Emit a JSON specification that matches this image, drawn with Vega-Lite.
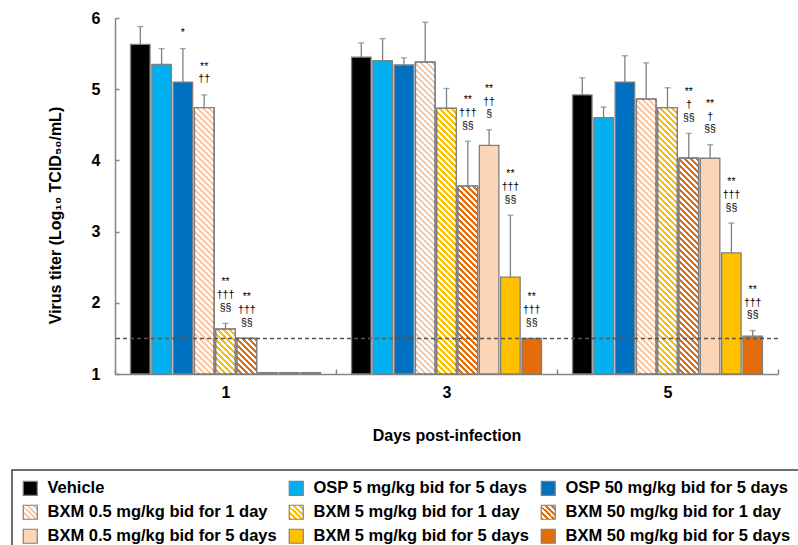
{
  "$schema": "https://vega.github.io/schema/vega-lite/v6.json",
  "width": 663,
  "height": 356,
  "autosize": "none",
  "padding": {"left": 115, "top": 18, "right": 20, "bottom": 171},
  "background": "white",
  "config": {
    "font": "Liberation Sans",
    "view": {"stroke": null},
    "axis": {"grid": false},
    "axisX": {"labelAngle": 0, "labelFontSize": 16, "labelFontWeight": "bold", "labelColor": "#000", "titleFontSize": 16, "titleFontWeight": "bold", "titleColor": "#000", "domainColor": "#868686", "domainWidth": 1.5, "tickColor": "#868686", "tickWidth": 1.5, "tickSize": -5, "tickBand": "extent", "labelPadding": 15, "titlePadding": 27},
    "axisY": {"labelFontSize": 16, "labelFontWeight": "bold", "labelColor": "#000", "titleFontSize": 16, "titleFontWeight": "bold", "titleColor": "#000", "domainColor": "#868686", "domainWidth": 1.5, "tickColor": "#868686", "tickWidth": 1.5, "tickSize": -4, "tickCount": 5, "labelPadding": 19, "titleX": -60, "titleY": 197, "titleAngle": -90, "titleAlign": "center", "titleBaseline": "middle"},
    "legend": {"strokeWidth": 1.5}
  },
  "params": [
    {"name": "hatch", "value": [
      {"offset":0,"color":"#fff"},
      {"offset":0.0083,"color":"#fff"},{"offset":0.0083,"color":"rgba(255,255,255,0)"},{"offset":0.0167,"color":"rgba(255,255,255,0)"},{"offset":0.0167,"color":"#fff"},{"offset":0.025,"color":"#fff"},{"offset":0.025,"color":"rgba(255,255,255,0)"},{"offset":0.0333,"color":"rgba(255,255,255,0)"},{"offset":0.0333,"color":"#fff"},{"offset":0.0417,"color":"#fff"},{"offset":0.0417,"color":"rgba(255,255,255,0)"},{"offset":0.05,"color":"rgba(255,255,255,0)"},{"offset":0.05,"color":"#fff"},{"offset":0.0583,"color":"#fff"},{"offset":0.0583,"color":"rgba(255,255,255,0)"},{"offset":0.0667,"color":"rgba(255,255,255,0)"},{"offset":0.0667,"color":"#fff"},{"offset":0.075,"color":"#fff"},{"offset":0.075,"color":"rgba(255,255,255,0)"},{"offset":0.0833,"color":"rgba(255,255,255,0)"},{"offset":0.0833,"color":"#fff"},{"offset":0.0917,"color":"#fff"},{"offset":0.0917,"color":"rgba(255,255,255,0)"},{"offset":0.1,"color":"rgba(255,255,255,0)"},{"offset":0.1,"color":"#fff"},
      {"offset":0.1083,"color":"#fff"},{"offset":0.1083,"color":"rgba(255,255,255,0)"},{"offset":0.1167,"color":"rgba(255,255,255,0)"},{"offset":0.1167,"color":"#fff"},{"offset":0.125,"color":"#fff"},{"offset":0.125,"color":"rgba(255,255,255,0)"},{"offset":0.1333,"color":"rgba(255,255,255,0)"},{"offset":0.1333,"color":"#fff"},{"offset":0.1417,"color":"#fff"},{"offset":0.1417,"color":"rgba(255,255,255,0)"},{"offset":0.15,"color":"rgba(255,255,255,0)"},{"offset":0.15,"color":"#fff"},{"offset":0.1583,"color":"#fff"},{"offset":0.1583,"color":"rgba(255,255,255,0)"},{"offset":0.1667,"color":"rgba(255,255,255,0)"},{"offset":0.1667,"color":"#fff"},{"offset":0.175,"color":"#fff"},{"offset":0.175,"color":"rgba(255,255,255,0)"},{"offset":0.1833,"color":"rgba(255,255,255,0)"},{"offset":0.1833,"color":"#fff"},{"offset":0.1917,"color":"#fff"},{"offset":0.1917,"color":"rgba(255,255,255,0)"},{"offset":0.2,"color":"rgba(255,255,255,0)"},{"offset":0.2,"color":"#fff"},
      {"offset":0.2083,"color":"#fff"},{"offset":0.2083,"color":"rgba(255,255,255,0)"},{"offset":0.2167,"color":"rgba(255,255,255,0)"},{"offset":0.2167,"color":"#fff"},{"offset":0.225,"color":"#fff"},{"offset":0.225,"color":"rgba(255,255,255,0)"},{"offset":0.2333,"color":"rgba(255,255,255,0)"},{"offset":0.2333,"color":"#fff"},{"offset":0.2417,"color":"#fff"},{"offset":0.2417,"color":"rgba(255,255,255,0)"},{"offset":0.25,"color":"rgba(255,255,255,0)"},{"offset":0.25,"color":"#fff"},{"offset":0.2583,"color":"#fff"},{"offset":0.2583,"color":"rgba(255,255,255,0)"},{"offset":0.2667,"color":"rgba(255,255,255,0)"},{"offset":0.2667,"color":"#fff"},{"offset":0.275,"color":"#fff"},{"offset":0.275,"color":"rgba(255,255,255,0)"},{"offset":0.2833,"color":"rgba(255,255,255,0)"},{"offset":0.2833,"color":"#fff"},{"offset":0.2917,"color":"#fff"},{"offset":0.2917,"color":"rgba(255,255,255,0)"},{"offset":0.3,"color":"rgba(255,255,255,0)"},{"offset":0.3,"color":"#fff"},
      {"offset":0.3083,"color":"#fff"},{"offset":0.3083,"color":"rgba(255,255,255,0)"},{"offset":0.3167,"color":"rgba(255,255,255,0)"},{"offset":0.3167,"color":"#fff"},{"offset":0.325,"color":"#fff"},{"offset":0.325,"color":"rgba(255,255,255,0)"},{"offset":0.3333,"color":"rgba(255,255,255,0)"},{"offset":0.3333,"color":"#fff"},{"offset":0.3417,"color":"#fff"},{"offset":0.3417,"color":"rgba(255,255,255,0)"},{"offset":0.35,"color":"rgba(255,255,255,0)"},{"offset":0.35,"color":"#fff"},{"offset":0.3583,"color":"#fff"},{"offset":0.3583,"color":"rgba(255,255,255,0)"},{"offset":0.3667,"color":"rgba(255,255,255,0)"},{"offset":0.3667,"color":"#fff"},{"offset":0.375,"color":"#fff"},{"offset":0.375,"color":"rgba(255,255,255,0)"},{"offset":0.3833,"color":"rgba(255,255,255,0)"},{"offset":0.3833,"color":"#fff"},{"offset":0.3917,"color":"#fff"},{"offset":0.3917,"color":"rgba(255,255,255,0)"},{"offset":0.4,"color":"rgba(255,255,255,0)"},{"offset":0.4,"color":"#fff"},
      {"offset":0.4083,"color":"#fff"},{"offset":0.4083,"color":"rgba(255,255,255,0)"},{"offset":0.4167,"color":"rgba(255,255,255,0)"},{"offset":0.4167,"color":"#fff"},{"offset":0.425,"color":"#fff"},{"offset":0.425,"color":"rgba(255,255,255,0)"},{"offset":0.4333,"color":"rgba(255,255,255,0)"},{"offset":0.4333,"color":"#fff"},{"offset":0.4417,"color":"#fff"},{"offset":0.4417,"color":"rgba(255,255,255,0)"},{"offset":0.45,"color":"rgba(255,255,255,0)"},{"offset":0.45,"color":"#fff"},{"offset":0.4583,"color":"#fff"},{"offset":0.4583,"color":"rgba(255,255,255,0)"},{"offset":0.4667,"color":"rgba(255,255,255,0)"},{"offset":0.4667,"color":"#fff"},{"offset":0.475,"color":"#fff"},{"offset":0.475,"color":"rgba(255,255,255,0)"},{"offset":0.4833,"color":"rgba(255,255,255,0)"},{"offset":0.4833,"color":"#fff"},{"offset":0.4917,"color":"#fff"},{"offset":0.4917,"color":"rgba(255,255,255,0)"},{"offset":0.5,"color":"rgba(255,255,255,0)"},{"offset":0.5,"color":"#fff"},
      {"offset":0.5083,"color":"#fff"},{"offset":0.5083,"color":"rgba(255,255,255,0)"},{"offset":0.5167,"color":"rgba(255,255,255,0)"},{"offset":0.5167,"color":"#fff"},{"offset":0.525,"color":"#fff"},{"offset":0.525,"color":"rgba(255,255,255,0)"},{"offset":0.5333,"color":"rgba(255,255,255,0)"},{"offset":0.5333,"color":"#fff"},{"offset":0.5417,"color":"#fff"},{"offset":0.5417,"color":"rgba(255,255,255,0)"},{"offset":0.55,"color":"rgba(255,255,255,0)"},{"offset":0.55,"color":"#fff"},{"offset":0.5583,"color":"#fff"},{"offset":0.5583,"color":"rgba(255,255,255,0)"},{"offset":0.5667,"color":"rgba(255,255,255,0)"},{"offset":0.5667,"color":"#fff"},{"offset":0.575,"color":"#fff"},{"offset":0.575,"color":"rgba(255,255,255,0)"},{"offset":0.5833,"color":"rgba(255,255,255,0)"},{"offset":0.5833,"color":"#fff"},{"offset":0.5917,"color":"#fff"},{"offset":0.5917,"color":"rgba(255,255,255,0)"},{"offset":0.6,"color":"rgba(255,255,255,0)"},{"offset":0.6,"color":"#fff"},
      {"offset":0.6083,"color":"#fff"},{"offset":0.6083,"color":"rgba(255,255,255,0)"},{"offset":0.6167,"color":"rgba(255,255,255,0)"},{"offset":0.6167,"color":"#fff"},{"offset":0.625,"color":"#fff"},{"offset":0.625,"color":"rgba(255,255,255,0)"},{"offset":0.6333,"color":"rgba(255,255,255,0)"},{"offset":0.6333,"color":"#fff"},{"offset":0.6417,"color":"#fff"},{"offset":0.6417,"color":"rgba(255,255,255,0)"},{"offset":0.65,"color":"rgba(255,255,255,0)"},{"offset":0.65,"color":"#fff"},{"offset":0.6583,"color":"#fff"},{"offset":0.6583,"color":"rgba(255,255,255,0)"},{"offset":0.6667,"color":"rgba(255,255,255,0)"},{"offset":0.6667,"color":"#fff"},{"offset":0.675,"color":"#fff"},{"offset":0.675,"color":"rgba(255,255,255,0)"},{"offset":0.6833,"color":"rgba(255,255,255,0)"},{"offset":0.6833,"color":"#fff"},{"offset":0.6917,"color":"#fff"},{"offset":0.6917,"color":"rgba(255,255,255,0)"},{"offset":0.7,"color":"rgba(255,255,255,0)"},{"offset":0.7,"color":"#fff"},
      {"offset":0.7083,"color":"#fff"},{"offset":0.7083,"color":"rgba(255,255,255,0)"},{"offset":0.7167,"color":"rgba(255,255,255,0)"},{"offset":0.7167,"color":"#fff"},{"offset":0.725,"color":"#fff"},{"offset":0.725,"color":"rgba(255,255,255,0)"},{"offset":0.7333,"color":"rgba(255,255,255,0)"},{"offset":0.7333,"color":"#fff"},{"offset":0.7417,"color":"#fff"},{"offset":0.7417,"color":"rgba(255,255,255,0)"},{"offset":0.75,"color":"rgba(255,255,255,0)"},{"offset":0.75,"color":"#fff"},{"offset":0.7583,"color":"#fff"},{"offset":0.7583,"color":"rgba(255,255,255,0)"},{"offset":0.7667,"color":"rgba(255,255,255,0)"},{"offset":0.7667,"color":"#fff"},{"offset":0.775,"color":"#fff"},{"offset":0.775,"color":"rgba(255,255,255,0)"},{"offset":0.7833,"color":"rgba(255,255,255,0)"},{"offset":0.7833,"color":"#fff"},{"offset":0.7917,"color":"#fff"},{"offset":0.7917,"color":"rgba(255,255,255,0)"},{"offset":0.8,"color":"rgba(255,255,255,0)"},{"offset":0.8,"color":"#fff"},
      {"offset":0.8083,"color":"#fff"},{"offset":0.8083,"color":"rgba(255,255,255,0)"},{"offset":0.8167,"color":"rgba(255,255,255,0)"},{"offset":0.8167,"color":"#fff"},{"offset":0.825,"color":"#fff"},{"offset":0.825,"color":"rgba(255,255,255,0)"},{"offset":0.8333,"color":"rgba(255,255,255,0)"},{"offset":0.8333,"color":"#fff"},{"offset":0.8417,"color":"#fff"},{"offset":0.8417,"color":"rgba(255,255,255,0)"},{"offset":0.85,"color":"rgba(255,255,255,0)"},{"offset":0.85,"color":"#fff"},{"offset":0.8583,"color":"#fff"},{"offset":0.8583,"color":"rgba(255,255,255,0)"},{"offset":0.8667,"color":"rgba(255,255,255,0)"},{"offset":0.8667,"color":"#fff"},{"offset":0.875,"color":"#fff"},{"offset":0.875,"color":"rgba(255,255,255,0)"},{"offset":0.8833,"color":"rgba(255,255,255,0)"},{"offset":0.8833,"color":"#fff"},{"offset":0.8917,"color":"#fff"},{"offset":0.8917,"color":"rgba(255,255,255,0)"},{"offset":0.9,"color":"rgba(255,255,255,0)"},{"offset":0.9,"color":"#fff"},
      {"offset":0.9083,"color":"#fff"},{"offset":0.9083,"color":"rgba(255,255,255,0)"},{"offset":0.9167,"color":"rgba(255,255,255,0)"},{"offset":0.9167,"color":"#fff"},{"offset":0.925,"color":"#fff"},{"offset":0.925,"color":"rgba(255,255,255,0)"},{"offset":0.9333,"color":"rgba(255,255,255,0)"},{"offset":0.9333,"color":"#fff"},{"offset":0.9417,"color":"#fff"},{"offset":0.9417,"color":"rgba(255,255,255,0)"},{"offset":0.95,"color":"rgba(255,255,255,0)"},{"offset":0.95,"color":"#fff"},{"offset":0.9583,"color":"#fff"},{"offset":0.9583,"color":"rgba(255,255,255,0)"},{"offset":0.9667,"color":"rgba(255,255,255,0)"},{"offset":0.9667,"color":"#fff"},{"offset":0.975,"color":"#fff"},{"offset":0.975,"color":"rgba(255,255,255,0)"},{"offset":0.9833,"color":"rgba(255,255,255,0)"},{"offset":0.9833,"color":"#fff"},{"offset":0.9917,"color":"#fff"},{"offset":0.9917,"color":"rgba(255,255,255,0)"},{"offset":1,"color":"rgba(255,255,255,0)"}
    ]}
  ],
  "data": {"values": [
    {"day":"1","grp":"Vehicle","value":5.63,"hi":5.88},
    {"day":"1","grp":"OSP 5 mg/kg bid for 5 days","value":5.35,"hi":5.57},
    {"day":"1","grp":"OSP 50 mg/kg bid for 5 days","value":5.1,"hi":5.57,"l3":"*"},
    {"day":"1","grp":"BXM 0.5 mg/kg bid for 1 day","value":4.74,"hi":4.92,"l2":"**","l3":"††"},
    {"day":"1","grp":"BXM 5 mg/kg bid for 1 day","value":1.63,"hi":1.71,"l1":"**","l2":"†††","l3":"§§"},
    {"day":"1","grp":"BXM 50 mg/kg bid for 1 day","value":1.5,"hi":1.5,"l1":"**","l2":"†††","l3":"§§"},
    {"day":"1","grp":"BXM 0.5 mg/kg bid for 5 days","value":1.02,"hi":1.02},
    {"day":"1","grp":"BXM 5 mg/kg bid for 5 days","value":1.02,"hi":1.02},
    {"day":"1","grp":"BXM 50 mg/kg bid for 5 days","value":1.02,"hi":1.02},
    {"day":"3","grp":"Vehicle","value":5.45,"hi":5.65},
    {"day":"3","grp":"OSP 5 mg/kg bid for 5 days","value":5.4,"hi":5.71},
    {"day":"3","grp":"OSP 50 mg/kg bid for 5 days","value":5.34,"hi":5.44},
    {"day":"3","grp":"BXM 0.5 mg/kg bid for 1 day","value":5.38,"hi":5.94},
    {"day":"3","grp":"BXM 5 mg/kg bid for 1 day","value":4.73,"hi":5.01},
    {"day":"3","grp":"BXM 50 mg/kg bid for 1 day","value":3.64,"hi":4.27,"l1":"**","l2":"†††","l3":"§§"},
    {"day":"3","grp":"BXM 0.5 mg/kg bid for 5 days","value":4.21,"hi":4.43,"l1":"**","l2":"††","l3":"§"},
    {"day":"3","grp":"BXM 5 mg/kg bid for 5 days","value":2.36,"hi":3.23,"l1":"**","l2":"†††","l3":"§§"},
    {"day":"3","grp":"BXM 50 mg/kg bid for 5 days","value":1.5,"hi":1.5,"l1":"**","l2":"†††","l3":"§§"},
    {"day":"5","grp":"Vehicle","value":4.92,"hi":5.16},
    {"day":"5","grp":"OSP 5 mg/kg bid for 5 days","value":4.6,"hi":4.75},
    {"day":"5","grp":"OSP 50 mg/kg bid for 5 days","value":5.1,"hi":5.47},
    {"day":"5","grp":"BXM 0.5 mg/kg bid for 1 day","value":4.86,"hi":5.37},
    {"day":"5","grp":"BXM 5 mg/kg bid for 1 day","value":4.74,"hi":5.02},
    {"day":"5","grp":"BXM 50 mg/kg bid for 1 day","value":4.03,"hi":4.38,"l1":"**","l2":"†","l3":"§§"},
    {"day":"5","grp":"BXM 0.5 mg/kg bid for 5 days","value":4.03,"hi":4.22,"l1":"**","l2":"†","l3":"§§"},
    {"day":"5","grp":"BXM 5 mg/kg bid for 5 days","value":2.7,"hi":3.12,"l1":"**","l2":"†††","l3":"§§"},
    {"day":"5","grp":"BXM 50 mg/kg bid for 5 days","value":1.53,"hi":1.61,"l1":"**","l2":"†††","l3":"§§"}
  ]},
  "layer": [
    {
      "mark": {"type": "bar", "stroke": "#7f7f7f", "strokeWidth": 1.3},
      "encoding": {
        "x": {"field": "day", "type": "nominal", "title": "Days post-infection", "scale": {"paddingInner": 0, "paddingOuter": 0}},
        "xOffset": {"field": "grp", "type": "nominal", "scale": {"domain": ["Vehicle","OSP 5 mg/kg bid for 5 days","OSP 50 mg/kg bid for 5 days","BXM 0.5 mg/kg bid for 1 day","BXM 5 mg/kg bid for 1 day","BXM 50 mg/kg bid for 1 day","BXM 0.5 mg/kg bid for 5 days","BXM 5 mg/kg bid for 5 days","BXM 50 mg/kg bid for 5 days"], "paddingInner": 0.085, "paddingOuter": 0.73}},
        "y": {"field": "value", "type": "quantitative", "title": "Virus titer (Log₁₀ TCID₅₀/mL)", "scale": {"domain": [1, 6], "nice": false, "zero": false}},
        "y2": {"datum": 1},
        "fill": {
          "field": "grp", "type": "nominal",
          "scale": {
            "domain": ["Vehicle","BXM 0.5 mg/kg bid for 1 day","BXM 0.5 mg/kg bid for 5 days","OSP 5 mg/kg bid for 5 days","BXM 5 mg/kg bid for 1 day","BXM 5 mg/kg bid for 5 days","OSP 50 mg/kg bid for 5 days","BXM 50 mg/kg bid for 1 day","BXM 50 mg/kg bid for 5 days"],
            "range": [
              "#000000",
              {"expr": "{gradient: 'linear', x1: 0, y1: 1, x2: 1, y2: 0, stops: [{offset: 0, color: '#F8CBAD'}, {offset: 0.1, color: '#F8CBAD'}, {offset: 0.1, color: '#fff'}, {offset: 0.2, color: '#fff'}, {offset: 0.2, color: '#F8CBAD'}, {offset: 0.3, color: '#F8CBAD'}, {offset: 0.3, color: '#fff'}, {offset: 0.4, color: '#fff'}, {offset: 0.4, color: '#F8CBAD'}, {offset: 0.5, color: '#F8CBAD'}, {offset: 0.5, color: '#fff'}, {offset: 0.6, color: '#fff'}, {offset: 0.6, color: '#F8CBAD'}, {offset: 0.7, color: '#F8CBAD'}, {offset: 0.7, color: '#fff'}, {offset: 0.8, color: '#fff'}, {offset: 0.8, color: '#F8CBAD'}, {offset: 0.9, color: '#F8CBAD'}, {offset: 0.9, color: '#fff'}, {offset: 1, color: '#fff'}]}"},
              "#FBD5B5",
              "#00B0F0",
              {"expr": "{gradient: 'linear', x1: 0, y1: 1, x2: 1, y2: 0, stops: [{offset: 0, color: '#FFC000'}, {offset: 0.1, color: '#FFC000'}, {offset: 0.1, color: '#fff'}, {offset: 0.2, color: '#fff'}, {offset: 0.2, color: '#FFC000'}, {offset: 0.3, color: '#FFC000'}, {offset: 0.3, color: '#fff'}, {offset: 0.4, color: '#fff'}, {offset: 0.4, color: '#FFC000'}, {offset: 0.5, color: '#FFC000'}, {offset: 0.5, color: '#fff'}, {offset: 0.6, color: '#fff'}, {offset: 0.6, color: '#FFC000'}, {offset: 0.7, color: '#FFC000'}, {offset: 0.7, color: '#fff'}, {offset: 0.8, color: '#fff'}, {offset: 0.8, color: '#FFC000'}, {offset: 0.9, color: '#FFC000'}, {offset: 0.9, color: '#fff'}, {offset: 1, color: '#fff'}]}"},
              "#FFC000",
              "#0070C0",
              {"expr": "{gradient: 'linear', x1: 0, y1: 1, x2: 1, y2: 0, stops: [{offset: 0, color: '#E46C0A'}, {offset: 0.1, color: '#E46C0A'}, {offset: 0.1, color: '#fff'}, {offset: 0.2, color: '#fff'}, {offset: 0.2, color: '#E46C0A'}, {offset: 0.3, color: '#E46C0A'}, {offset: 0.3, color: '#fff'}, {offset: 0.4, color: '#fff'}, {offset: 0.4, color: '#E46C0A'}, {offset: 0.5, color: '#E46C0A'}, {offset: 0.5, color: '#fff'}, {offset: 0.6, color: '#fff'}, {offset: 0.6, color: '#E46C0A'}, {offset: 0.7, color: '#E46C0A'}, {offset: 0.7, color: '#fff'}, {offset: 0.8, color: '#fff'}, {offset: 0.8, color: '#E46C0A'}, {offset: 0.9, color: '#E46C0A'}, {offset: 0.9, color: '#fff'}, {offset: 1, color: '#fff'}]}"},
              "#E46C0A"
            ]
          },
          "legend": {
            "orient": "none", "legendX": -103, "legendY": 452, "columns": 3, "title": null,
            "symbolType": "square", "symbolSize": 196, "symbolStrokeColor": "#7f7f7f", "symbolStrokeWidth": 1.2, "symbolOpacity": 1,
            "labelFont": "Liberation Sans", "labelFontSize": 16.5, "labelFontWeight": "bold", "labelColor": "#000", "labelOffset": 9, "labelLimit": 400,
            "rowPadding": 4, "columnPadding": 9, "padding": 10, "strokeColor": "#404040"
          }
        }
      }
    },
    {
      "transform": [{"filter": "indexof(datum.grp, '1 day') >= 0"}],
      "mark": {"type": "bar", "stroke": "#7f7f7f", "strokeWidth": 1.3, "fill": {"expr": "datum.grp == 'BXM 0.5 mg/kg bid for 1 day' ? '#F8CBAD' : datum.grp == 'BXM 5 mg/kg bid for 1 day' ? '#FFC000' : '#E46C0A'"}},
      "encoding": {
        "x": {"field": "day", "type": "nominal", "title": "Days post-infection"},
        "xOffset": {"field": "grp", "type": "nominal"},
        "y": {"field": "value", "type": "quantitative", "title": "Virus titer (Log₁₀ TCID₅₀/mL)"},
        "y2": {"datum": 1}
      }
    },
    {
      "transform": [{"filter": "indexof(datum.grp, '1 day') >= 0"}],
      "mark": {"type": "bar", "stroke": "#7f7f7f", "strokeWidth": 1.3, "fill": {"expr": "{gradient: 'linear', x1: 0, y1: 1, x2: 360*19.5/(19.5*19.5 + pow((datum.value-1)*71.2, 2)), y2: 1 - 360*(datum.value-1)*71.2/(19.5*19.5 + pow((datum.value-1)*71.2, 2)), stops: hatch}"}},
      "encoding": {
        "x": {"field": "day", "type": "nominal", "title": "Days post-infection"},
        "xOffset": {"field": "grp", "type": "nominal"},
        "y": {"field": "value", "type": "quantitative", "title": "Virus titer (Log₁₀ TCID₅₀/mL)"},
        "y2": {"datum": 1}
      }
    },
    {
      "transform": [{"filter": "datum.hi > datum.value"}],
      "mark": {"type": "rule", "color": "#7f7f7f", "strokeWidth": 1.3},
      "encoding": {
        "x": {"field": "day", "type": "nominal", "title": "Days post-infection"},
        "xOffset": {"field": "grp", "type": "nominal"},
        "y": {"field": "value", "type": "quantitative", "title": "Virus titer (Log₁₀ TCID₅₀/mL)"},
        "y2": {"field": "hi"}
      }
    },
    {
      "transform": [{"filter": "datum.hi > datum.value"}],
      "mark": {"type": "tick", "orient": "horizontal", "color": "#7f7f7f", "size": 6, "thickness": 1.3},
      "encoding": {
        "x": {"field": "day", "type": "nominal", "title": "Days post-infection"},
        "xOffset": {"field": "grp", "type": "nominal"},
        "y": {"field": "hi", "type": "quantitative", "title": "Virus titer (Log₁₀ TCID₅₀/mL)"}
      }
    },
    {
      "transform": [{"filter": "datum.l3 != null"}],
      "mark": {"type": "text", "baseline": "bottom", "dy": -10.5, "fontSize": 10.5, "color": "#000", "font": "Liberation Sans"},
      "encoding": {
        "x": {"field": "day", "type": "nominal", "title": "Days post-infection"},
        "xOffset": {"field": "grp", "type": "nominal"},
        "y": {"field": "hi", "type": "quantitative", "title": "Virus titer (Log₁₀ TCID₅₀/mL)"},
        "text": {"field": "l3"}
      }
    },
    {
      "transform": [{"filter": "datum.l2 != null"}],
      "mark": {"type": "text", "baseline": "bottom", "dy": -23, "fontSize": 10.5, "color": "#000", "font": "Liberation Sans"},
      "encoding": {
        "x": {"field": "day", "type": "nominal", "title": "Days post-infection"},
        "xOffset": {"field": "grp", "type": "nominal"},
        "y": {"field": "hi", "type": "quantitative", "title": "Virus titer (Log₁₀ TCID₅₀/mL)"},
        "text": {"field": "l2"}
      }
    },
    {
      "transform": [{"filter": "datum.l1 != null"}],
      "mark": {"type": "text", "baseline": "bottom", "dy": -36, "fontSize": 10.5, "color": "#000", "font": "Liberation Sans"},
      "encoding": {
        "x": {"field": "day", "type": "nominal", "title": "Days post-infection"},
        "xOffset": {"field": "grp", "type": "nominal"},
        "y": {"field": "hi", "type": "quantitative", "title": "Virus titer (Log₁₀ TCID₅₀/mL)"},
        "text": {"field": "l1"}
      }
    },
    {
      "data": {"values": [{"lod": 1.5}]},
      "mark": {"type": "rule", "color": "#555555", "strokeWidth": 1.5, "strokeDash": [4, 3]},
      "encoding": {
        "y": {"field": "lod", "type": "quantitative", "title": "Virus titer (Log₁₀ TCID₅₀/mL)"}
      }
    }
  ]
}
